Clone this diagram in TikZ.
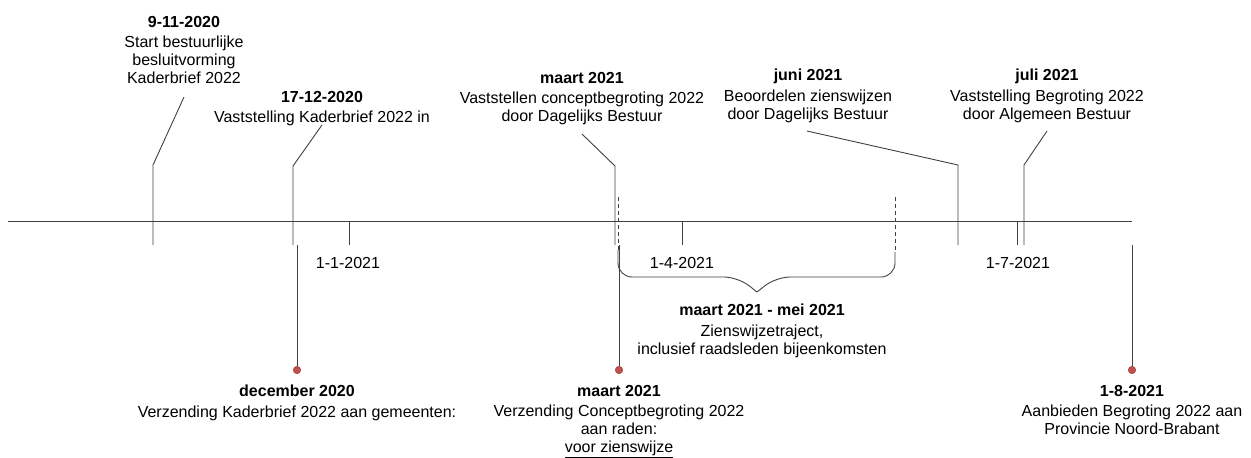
\documentclass[tikz,border=0pt]{standalone}
\usepackage{fontspec}
\setmainfont{Liberation Sans}
\usetikzlibrary{positioning}

\definecolor{dotred}{RGB}{192,80,77}
\definecolor{linegray}{RGB}{64,64,64}

\tikzset{
  line/.style   = {draw=linegray, line width=0.9pt},
  span/.style   = {line, dash pattern=on 4pt off 3pt},
  event/.style  = {align=center, inner sep=0pt, anchor=north,
                   font=\fontsize{16}{18}\selectfont},
  datum/.style  = {inner sep=0pt, anchor=base,
                   font=\fontsize{16}{18}\selectfont},
  dot/.style    = {circle, fill=dotred, draw=dotred!80!black, line width=0.5pt,
                   inner sep=0pt, minimum size=7.5pt}
}

\begin{document}
\begin{tikzpicture}
  [x=1pt, y=-1pt]

  \useasboundingbox (0,0) rectangle (1251,458);

  % tijdlijn
  \coordinate (axis start) at (8,221);
  \coordinate (axis end)   at (1132,221);
  \draw[line] (axis start) -- (axis end);

  % maanden
  \coordinate (jan top) at (349,221);
  \coordinate (jan bot) at (349,245);
  \node[datum] (jan) at (348,268) {1-1-2021};
  \draw[line] (jan top) -- (jan bot);

  \coordinate (apr top) at (682,221);
  \coordinate (apr bot) at (682,245);
  \node[datum] (apr) at (682,268) {1-4-2021};
  \draw[line] (apr top) -- (apr bot);

  \coordinate (jul top) at (1017,221);
  \coordinate (jul bot) at (1017,245);
  \node[datum] (jul) at (1018,268) {1-7-2021};
  \draw[line] (jul top) -- (jul bot);

  % boven de lijn
  \node[event] (start kader) at (184,16)
    {\textbf{9-11-2020}\\[2.5pt]Start bestuurlijke\\besluitvorming\\Kaderbrief 2022};
  \coordinate (start kader end) at (184,97);
  \coordinate (start kader knee) at (153,165);
  \coordinate (start kader foot) at (153,245);
  \draw[line] (start kader end) -- (start kader knee) -- (start kader foot);

  \node[event] (vast kader) at (322,91)
    {\textbf{17-12-2020}\\[2.5pt]Vaststelling Kaderbrief 2022 in};
  \coordinate (vast kader end) at (322,125);
  \coordinate (vast kader knee) at (293,166);
  \coordinate (vast kader foot) at (293,245);
  \draw[line] (vast kader end) -- (vast kader knee) -- (vast kader foot);

  \node[event] (vast concept) at (582,72)
    {\textbf{maart 2021}\\[2.5pt]Vaststellen conceptbegroting 2022\\door Dagelijks Bestuur};
  \coordinate (vast concept end) at (582,134);
  \coordinate (vast concept knee) at (615,166);
  \coordinate (vast concept foot) at (615,245);
  \draw[line] (vast concept end) -- (vast concept knee) -- (vast concept foot);

  \node[event] (beoordelen) at (808,69)
    {\textbf{juni 2021}\\[2.5pt]Beoordelen zienswijzen\\door Dagelijks Bestuur};
  \coordinate (beoordelen end) at (807,131);
  \coordinate (beoordelen knee) at (958,165);
  \coordinate (beoordelen foot) at (958,245);
  \draw[line] (beoordelen end) -- (beoordelen knee) -- (beoordelen foot);

  \node[event] (vast begroting) at (1047,69)
    {\textbf{juli 2021}\\[2.5pt]Vaststelling Begroting 2022\\door Algemeen Bestuur};
  \coordinate (vast begroting end) at (1047,131);
  \coordinate (vast begroting knee) at (1024,165);
  \coordinate (vast begroting foot) at (1024,245);
  \draw[line] (vast begroting end) -- (vast begroting knee) -- (vast begroting foot);

  % onder de lijn
  \coordinate (verz kader top) at (297,245);
  \node[dot] (verz kader dot) at (297,370) {};
  \node[event] (verz kader) at (297,385)
    {\textbf{december 2020}\\[2.5pt]Verzending Kaderbrief 2022 aan gemeenten:};
  \draw[line] (verz kader top) -- (verz kader dot);

  \coordinate (verz concept top) at (619,245);
  \node[dot] (verz concept dot) at (619,370) {};
  \node[event] (verz concept) at (619,385)
    {\textbf{maart 2021}\\[2.5pt]Verzending Conceptbegroting 2022\\aan raden:\\\underline{voor zienswijze}};
  \draw[line] (verz concept top) -- (verz concept dot);

  \coordinate (aanbieden top) at (1132,245);
  \node[dot] (aanbieden dot) at (1132,370) {};
  \node[event] (aanbieden) at (1132,385)
    {\textbf{1-8-2021}\\[2.5pt]Aanbieden Begroting 2022 aan\\Provincie Noord-Brabant};
  \draw[line] (aanbieden top) -- (aanbieden dot);

  % zienswijzetraject
  \coordinate (traject left top)  at (618,197);
  \coordinate (traject left)      at (618,250);
  \coordinate (traject right top) at (895,197);
  \coordinate (traject right)     at (895,252);
  \coordinate (traject left mid)  at (738,277);
  \coordinate (traject right mid) at (776,277);
  \coordinate (traject tip)       at (757,292);
  \draw[span] (traject left top) -- (traject left);
  \draw[span] (traject right top) -- (traject right);
  \draw[line, rounded corners=14pt] (traject left) |- (traject left mid) -- (traject tip);
  \draw[line, rounded corners=14pt] (traject right) |- (traject right mid) -- (traject tip);

  \node[event] (traject) at (762,304)
    {\textbf{maart 2021 - mei 2021}\\[2.5pt]Zienswijzetraject,\\inclusief raadsleden bijeenkomsten};
\end{tikzpicture}
\end{document}
